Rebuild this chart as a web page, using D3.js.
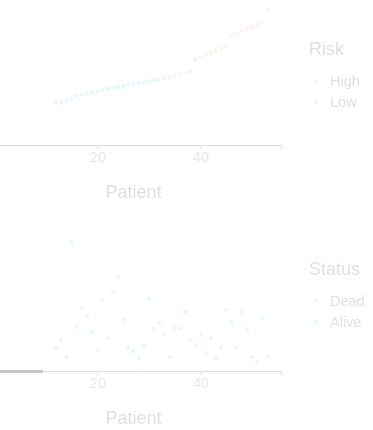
<!DOCTYPE html>
<html>
<head>
<meta charset="utf-8">
<script src="https://cdn.jsdelivr.net/npm/d3@7"></script>
<style>
  html, body { margin: 0; padding: 0; background: #fff; }
  svg { display: block; font-family: "Liberation Sans", Arial, sans-serif; }
</style>
</head>
<body>
<svg id="chart" width="373" height="430"></svg>
<script>
// Patients in risk-score order (only the visible ones)
const patients = d3.range(12, 54);

// Risk score of each patient (ascending)
const riskScore = [
  1.22, 1.27, 1.33, 1.38, 1.45, 1.50, 1.55, 1.58, 1.62, 1.66, 1.70,
  1.73, 1.77, 1.80, 1.84, 1.87, 1.90, 1.93, 1.96, 1.99, 2.02, 2.05,
  2.08, 2.13, 2.18, 2.24, 2.31,
  2.68, 2.76, 2.84, 2.90, 2.97, 3.04, 3.10,
  3.50, 3.56, 3.63, 3.70, 3.77, 3.85, 3.93,
  4.37
];
const riskGroup = patients.map(p => p <= 33 ? "Low" : "High");

// Survival time (years) and status of each patient
const survTime = [
  1.8, 2.5, 1.0, 11.4, 3.8, 5.5, 4.8, 3.3, 1.6, 6.2, 2.7,
  6.9, 8.3, 4.4, 1.9, 1.5, 0.9, 2.1, 6.3, 3.6, 4.1, 3.0,
  1.0, 3.6, 3.6, 5.1, 2.5, 2.1, 3.0, 1.4, 2.7, 0.9, 1.9,
  5.3, 4.2, 1.9, 5.1, 3.5, 1.0, 0.5, 4.5, 1.0
];
const status = [
  "Alive", "Alive", "Alive", "Alive", "Alive", "Alive", "Alive", "Alive", "Alive", "Dead", "Alive",
  "Dead", "Alive", "Alive", "Alive", "Alive", "Alive", "Alive", "Alive", "Dead", "Dead", "Dead",
  "Alive", "Dead", "Dead", "Alive", "Dead", "Dead", "Dead", "Dead", "Alive", "Dead", "Alive",
  "Alive", "Alive", "Dead", "Dead", "Alive", "Alive", "Alive", "Alive", "Dead"
];

const xTicks = [20, 40];
const riskLevels = ["High", "Low"];
const statusLevels = ["Dead", "Alive"];

const RED = "#F8766D", CYAN = "#00BFC4";
const riskColor = d3.scaleOrdinal().domain(riskLevels).range([RED, CYAN]);
const statusColor = d3.scaleOrdinal().domain(statusLevels).range([RED, CYAN]);

const svg = d3.select("#chart");
// whole figure is washed out
const fig = svg.append("g").attr("opacity", 0.13);

// shared patient axis (1..53 with 5% expansion)
const full = [1, 53];
const pad = (full[1] - full[0]) * 0.05;
const x = d3.scaleLinear().domain([full[0] - pad, full[1] + pad]).range([-14, 281]);

const panels = [
  { bottom: 145, top: 0, domain: [-0.167, 4.667], vals: riskScore, grp: riskGroup, color: riskColor,
    legTitle: "Risk", levels: riskLevels, legY: 55 },
  { bottom: 371, top: 225, domain: [-0.27, 13], vals: survTime, grp: status, color: statusColor,
    legTitle: "Status", levels: statusLevels, legY: 275 }
];

panels.forEach(pn => {
  const y = d3.scaleLinear().domain(pn.domain).range([pn.bottom, pn.top]);
  const g = fig.append("g");

  g.selectAll("circle.pt")
    .data(patients)
    .join("circle")
    .attr("class", "pt")
    .attr("cx", (p) => x(p))
    .attr("cy", (p, i) => y(pn.vals[i]))
    .attr("r", 2.2)
    .attr("fill", (p, i) => pn.color(pn.grp[i]))
    .attr("fill-opacity", 0.75);

  const ax = g.append("g")
    .attr("transform", `translate(0,${pn.bottom})`)
    .call(d3.axisBottom(x).tickValues(xTicks).tickSize(4).tickPadding(3).tickFormat(d3.format("d")));
  ax.select(".domain").attr("stroke", "#000").attr("stroke-width", 1.1);
  ax.selectAll(".tick line").attr("stroke", "#333");
  ax.selectAll(".tick text").attr("fill", "#4d4d4d").attr("font-size", 14.5)
    .attr("font-family", "Liberation Sans, Arial, sans-serif");

  g.append("text")
    .attr("x", (x.range()[0] + x.range()[1]) / 2)
    .attr("y", pn.bottom + 53)
    .attr("text-anchor", "middle")
    .attr("font-size", 18)
    .attr("fill", "#000")
    .text("Patient");

  // legend
  const lg = g.append("g").attr("transform", `translate(309,${pn.legY})`);
  lg.append("text").attr("x", 0).attr("y", 0).attr("font-size", 18).attr("fill", "#000").text(pn.legTitle);
  pn.levels.forEach((lv, i) => {
    const cy = 26 + i * 21;
    lg.append("circle").attr("cx", 7).attr("cy", cy).attr("r", 2.2).attr("fill", pn.color(lv)).attr("fill-opacity", 0.75);
    lg.append("text").attr("x", 21).attr("y", cy).attr("dy", "0.35em")
      .attr("font-size", 14.5).attr("fill", "#000").text(lv);
  });
});

// darker grey strip at the left end of the lower axis
svg.append("rect").attr("x", 0).attr("y", 370).attr("width", 43).attr("height", 3).attr("fill", "#c6c6c6");
</script>
</body>
</html>
